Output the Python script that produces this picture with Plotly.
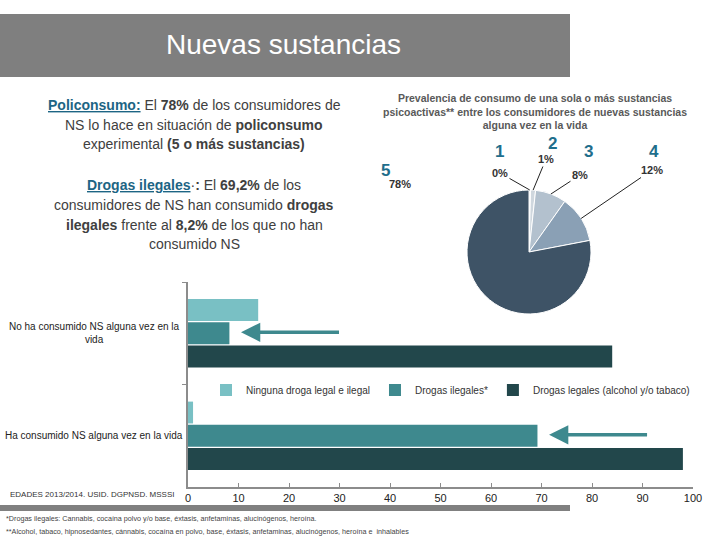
import math
import plotly.graph_objects as go

# ---------------- data ----------------
categories = ["No ha consumido NS alguna vez en la vida", "Ha consumido NS alguna vez en la vida"]
category_labels = ["No ha consumido NS alguna vez en la<br>vida", "Ha consumido NS alguna vez en la vida"]
series_names = ["Ninguna droga legal e ilegal", "Drogas ilegales*", "Drogas legales (alcohol y/o tabaco)"]
ninguna = [13.9, 1.0]
ilegales = [8.2, 69.2]
legales = [84.0, 98.0]
x_ticks = [0, 10, 20, 30, 40, 50, 60, 70, 80, 90, 100]

pie_labels = ["1", "2", "3", "4", "5"]
pie_values = [0.4, 1.3, 8.1, 12.2, 78.0]

# ---------------- styles / layout positions ----------------
bar_colors = ["#79c0c4", "#3e898e", "#22474b"]
pie_colors = ["#e6eaee", "#cfd7de", "#b3c1ce", "#8aa0b5", "#3e5366"]
FONT = "Liberation Sans, Arial, sans-serif"
W, H = 720, 540
PIE_CX, PIE_CY, PIE_R = 529, 252, 62          # pixel geometry of the pie
num_pos = [(499, 152), (552, 143), (588, 152), (654, 152), (385, 170)]   # label number positions
pct_pos = [(500, 173), (546, 159), (580, 175), (652, 170), (400, 184)]   # percent positions
leader = [True, True, True, True, False]


def px(xp):
    return xp / W


def py(yp):
    return 1 - yp / H


fig = go.Figure()

for name, vals, col in zip(series_names, [ninguna, ilegales, legales], bar_colors):
    fig.add_trace(go.Bar(
        y=categories, x=vals, name=name, orientation="h",
        marker=dict(color=col, line=dict(width=0)),
        xaxis="x", yaxis="y", hoverinfo="x+name",
    ))

fig.add_trace(go.Pie(
    labels=pie_labels, values=pie_values, sort=False, direction="clockwise",
    rotation=0, showlegend=False,
    marker=dict(colors=pie_colors, line=dict(color="white", width=1)),
    textposition="none",
    domain=dict(x=[px(PIE_CX - PIE_R), px(PIE_CX + PIE_R)], y=[py(PIE_CY + PIE_R), py(PIE_CY - PIE_R)]),
))

fig.update_layout(
    width=W, height=H,
    margin=dict(l=0, r=0, t=0, b=0, autoexpand=False),
    paper_bgcolor="white", plot_bgcolor="white",
    font=dict(family=FONT, color="#333333"),
    barmode="group", bargap=0.32, bargroupgap=0.06,
    xaxis=dict(domain=[px(188), px(693)], range=[0, 100], tickvals=x_ticks,
               showgrid=False, zeroline=False, showline=True, linecolor="#8c8c8c", linewidth=2,
               ticks="inside", ticklen=4, tickcolor="#8c8c8c",
               tickfont=dict(size=11, color="#222222"), anchor="y", fixedrange=True),
    yaxis=dict(domain=[py(487), py(282)], autorange="reversed",
               showgrid=False, zeroline=False, showline=True, linecolor="#8c8c8c", linewidth=2,
               ticks="outside", tickson="boundaries", ticklen=4, tickcolor="#8c8c8c",
               showticklabels=False, anchor="x", fixedrange=True),
    legend=dict(orientation="h", x=px(206), y=py(390), xanchor="left", yanchor="middle",
                font=dict(size=10, color="#333333"), itemwidth=30, bgcolor="rgba(0,0,0,0)",
                traceorder="normal"),
)

shapes = [
    dict(type="rect", xref="paper", yref="paper", x0=0, x1=px(570), y0=py(77), y1=py(14),
         fillcolor="#7f7f7f", line=dict(width=0), layer="below"),
    dict(type="rect", xref="paper", yref="paper", x0=0, x1=px(570), y0=py(511), y1=py(505),
         fillcolor="#808080", line=dict(width=0), layer="below"),
]
fig.update_layout(shapes=shapes)

ann = []
ann.append(dict(text="Nuevas sustancias", x=px(283), y=py(44), xref="paper", yref="paper",
                showarrow=False, font=dict(size=28, color="white", family=FONT), xanchor="center", yanchor="middle"))

TEAL = "#1d6584"
left_lines = [
    ("<span style='color:%s;text-decoration:underline'><b>Policonsumo:</b></span> El <b>78%%</b> de los consumidores de" % TEAL, 105),
    ("NS lo hace en situación de <b>policonsumo</b>", 125),
    ("experimental <b>(5 o más sustancias)</b>", 144),
    ("<span style='color:%s;text-decoration:underline'><b>Drogas ilegales</b></span>·<b>:</b> El <b>69,2%%</b> de los" % TEAL, 185),
    ("consumidores de NS han consumido <b>drogas</b>", 205),
    ("<b>ilegales</b> frente al <b>8,2%</b> de los que no han", 225),
    ("consumido NS", 244),
]
for txt, yy in left_lines:
    ann.append(dict(text=txt, x=px(194), y=py(yy), xref="paper", yref="paper", showarrow=False,
                    font=dict(size=14, color="#404040", family=FONT), xanchor="center", yanchor="middle"))

ann.append(dict(text="<b>Prevalencia de consumo de una sola o más sustancias<br>psicoactivas** entre los consumidores de nuevas sustancias<br>alguna vez en la vida</b>",
                x=px(535), y=py(112), xref="paper", yref="paper", showarrow=False,
                font=dict(size=10.5, color="#595959", family=FONT), xanchor="center", yanchor="middle",
                align="center"))

# pie labels: numbers and percentages with leader lines to slice mid-points
total = sum(pie_values)
cum = 0.0
for lab, val, (nx, ny), (tx, ty), ld in zip(pie_labels, pie_values, num_pos, pct_pos, leader):
    mid = (cum + val / 2) / total * 2 * math.pi
    cum += val
    hx = PIE_CX + PIE_R * math.sin(mid)
    hy = PIE_CY - PIE_R * math.cos(mid)
    pct = "%d%%" % round(val / total * 100)
    ann.append(dict(text="<b>%s</b>" % lab, x=px(nx), y=py(ny), xref="paper", yref="paper", showarrow=False,
                    font=dict(size=17, color="#1f6e8c", family=FONT), xanchor="center", yanchor="middle"))
    if ld:
        ann.append(dict(text="<b>%s</b>" % pct, x=px(hx), y=py(hy), xref="paper", yref="paper",
                        ax=tx - hx, ay=ty - hy, showarrow=True, arrowhead=0, arrowwidth=1,
                        arrowcolor="#222222", standoff=0,
                        font=dict(size=11, color="#333333", family=FONT)))
    else:
        ann.append(dict(text="<b>%s</b>" % pct, x=px(tx), y=py(ty), xref="paper", yref="paper", showarrow=False,
                        font=dict(size=11, color="#333333", family=FONT), xanchor="center", yanchor="middle"))

for cat, lab in zip(categories, category_labels):
    ann.append(dict(text=lab, x=px(94), y=cat, xref="paper", yref="y", showarrow=False,
                    font=dict(size=10, color="#222222", family=FONT), xanchor="center", yanchor="middle",
                    align="center"))

# arrows pointing at "Drogas ilegales" bars
for cat, v in zip(categories, ilegales):
    ann.append(dict(text="", x=v + 2.3, y=cat, xref="x", yref="y", ax=v + 22, ay=cat, axref="x", ayref="y",
                    showarrow=True, arrowhead=2, arrowsize=1.1, arrowwidth=3.5, arrowcolor="#3e898e",
                    yshift=1))

ann.append(dict(text="EDADES 2013/2014. USID. DGPNSD. MSSSI", x=px(8), y=py(494), xref="paper", yref="paper",
                showarrow=False, font=dict(size=8, color="#333333", family=FONT), xanchor="left", yanchor="middle"))
ann.append(dict(text="*Drogas ilegales: Cannabis, cocaína polvo y/o base, éxtasis, anfetaminas, alucinógenos, heroína.",
                x=px(4), y=py(518), xref="paper", yref="paper", showarrow=False,
                font=dict(size=7.2, color="#444444", family=FONT), xanchor="left", yanchor="middle"))
ann.append(dict(text="**Alcohol, tabaco, hipnosedantes, cánnabis, cocaína en polvo, base, éxtasis, anfetaminas, alucinógenos, heroína e  inhalables",
                x=px(4), y=py(531), xref="paper", yref="paper", showarrow=False,
                font=dict(size=7.2, color="#444444", family=FONT), xanchor="left", yanchor="middle"))

fig.update_layout(annotations=ann)

fig.write_html("out.html", config={"displayModeBar": False},
               post_script="document.body.style.margin='0px';")
